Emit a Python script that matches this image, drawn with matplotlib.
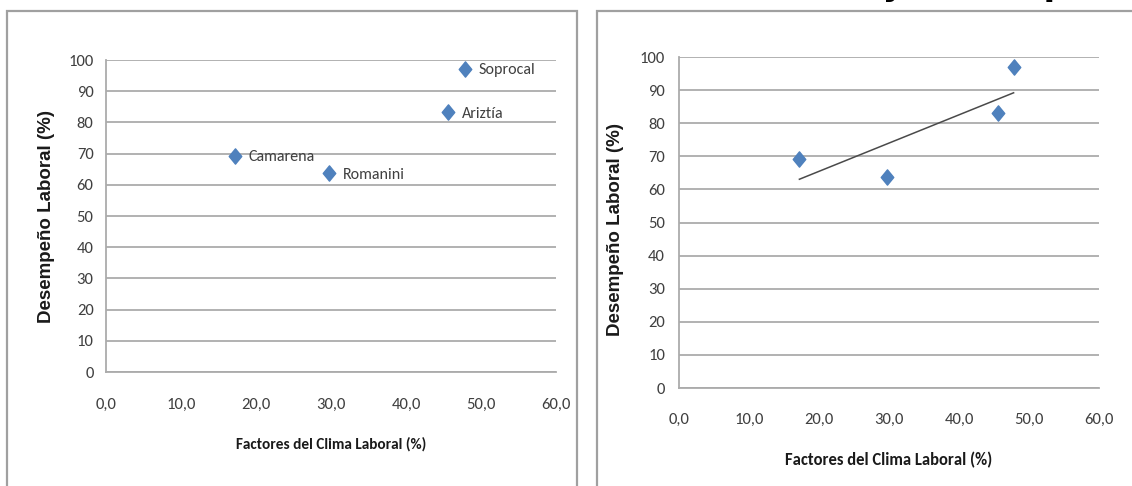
import matplotlib
matplotlib.use("Agg")
import matplotlib.pyplot as plt
from matplotlib.patches import Rectangle
from matplotlib.path import Path
import numpy as np

# datos
empresas = ["Camarena", "Romanini", "Ariztía", "Soprocal"]
clima = [17.2, 29.7, 45.6, 47.8]        # Factores del Clima Laboral (%)
desempeno = [69.3, 63.7, 83.2, 97.1]    # Desempeño Laboral (%)

x_ticks = [0, 10, 20, 30, 40, 50, 60]
y_ticks = [0, 10, 20, 30, 40, 50, 60, 70, 80, 90, 100]

azul = "#4F81BD"
gris = "#ababab"
narrow = ["Carlito", "Liberation Sans Narrow", "Sofia Sans Semi Condensed", "DejaVu Sans"]
arial = ["Liberation Sans", "Arimo", "DejaVu Sans"]

# rombo un poco más alto que ancho, como el de Excel
rombo = Path([(0, 1), (0.82, 0), (0, -1), (-0.82, 0), (0, 1)],
             [Path.MOVETO, Path.LINETO, Path.LINETO, Path.LINETO, Path.CLOSEPOLY])

W, H = 1132, 486
fig = plt.figure(figsize=(W / 100, H / 100), dpi=100)

# marcos de los dos gráficos (cortados por abajo y a la derecha)
fig.patches.append(Rectangle((7 / W, -0.1), (577 - 7) / W, 1.1 - 11 / H,
                             transform=fig.transFigure, fill=False,
                             edgecolor="#a0a0a0", lw=1.6))
fig.patches.append(Rectangle((597 / W, -0.1), 0.5, 1.1 - 11 / H,
                             transform=fig.transFigure, fill=False,
                             edgecolor="#a0a0a0", lw=1.6))

# título cortado arriba (solo se ven los trazos descendentes)
fig.text(1137 / W, 1 + 5 / H, "Clima Laboral y Desempeño", ha="right", va="baseline",
         fontsize=24, fontweight="bold", color="black")

ax1 = fig.add_axes([106 / W, 1 - 372 / H, (556 - 106) / W, (372 - 60) / H])
ax2 = fig.add_axes([679 / W, 1 - 388 / H, (1099 - 679) / W, (388 - 57) / H])


def estilo(ax, ypad, xpad, ylab_x, ylab_y, xlab_y, xlab_size):
    ax.set_xlim(0, 60)
    ax.set_ylim(0, 100)
    ax.set_xticks(x_ticks)
    ax.set_xticklabels([f"{v:.1f}".replace(".", ",") for v in x_ticks],
                       family=narrow, fontsize=12, color="#404040")
    ax.set_yticks(y_ticks)
    ax.set_yticklabels([str(v) for v in y_ticks],
                       family=narrow, fontsize=12, color="#404040")
    ax.tick_params(axis="both", length=0)
    ax.tick_params(axis="y", pad=ypad)
    ax.tick_params(axis="x", pad=xpad)
    ax.grid(axis="y", color=gris, lw=1.3)
    ax.set_axisbelow(True)
    for s in ["top", "right"]:
        ax.spines[s].set_visible(False)
    for s in ["left", "bottom"]:
        ax.spines[s].set_color(gris)
        ax.spines[s].set_linewidth(1.3)
    ax.set_xlabel("Factores del Clima Laboral (%)", family=narrow,
                  fontsize=xlab_size, fontweight="bold", color="#1a1a1a")
    ax.set_ylabel("Desempeño Laboral (%)", family=arial,
                  fontsize=13.5, fontweight="bold", color="#1a1a1a")
    ax.yaxis.set_label_coords(ylab_x, ylab_y)
    ax.xaxis.set_label_coords(0.5, xlab_y)


# gráfico izquierdo: puntos con nombre
ax1.plot(clima, desempeno, ls="none", marker=rombo, markersize=11,
         color=azul, clip_on=False, zorder=3)
for nombre, x, y in zip(empresas, clima, desempeno):
    ax1.annotate(nombre, (x, y), xytext=(10, -1), textcoords="offset points",
                 ha="left", va="center", family=narrow, fontsize=11.5,
                 color="#404040")
estilo(ax1, 9, 19, -0.113, 0.5, -0.208, 11)

# gráfico derecho: puntos con línea de tendencia lineal
ax2.plot(clima, desempeno, ls="none", marker=rombo, markersize=11,
         color=azul, clip_on=False, zorder=3)
m, b = np.polyfit(clima, desempeno, 1)
xt = np.array([min(clima), max(clima)])
ax2.plot(xt, m * xt + b, color="#4a4a4a", lw=1.1, zorder=2)
estilo(ax2, 10, 18, -0.131, 0.48, -0.193, 12)

fig.savefig("out.png", dpi=100)
